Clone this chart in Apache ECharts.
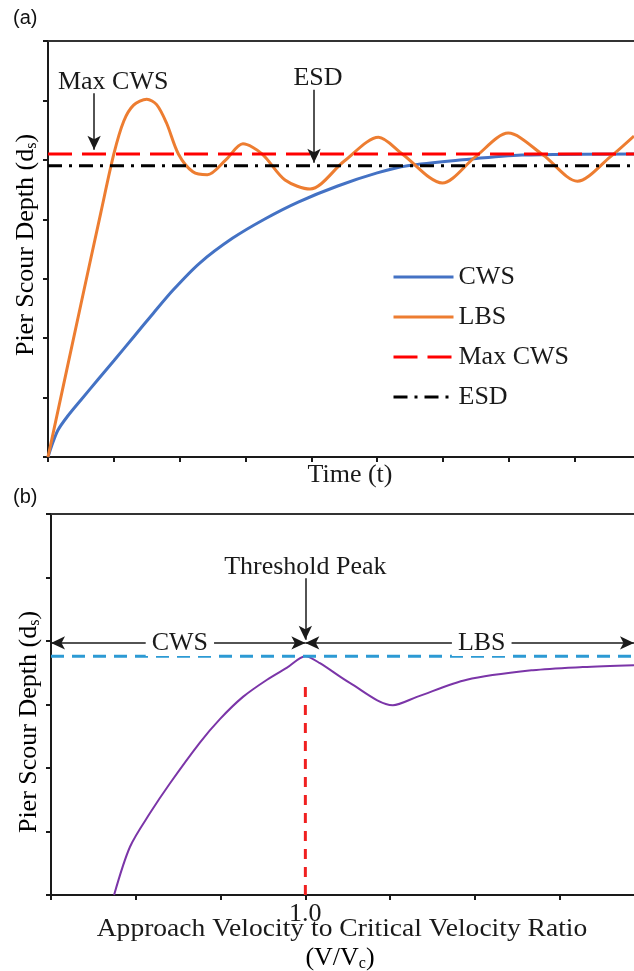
<!DOCTYPE html>
<html>
<head>
<meta charset="utf-8">
<script src="https://cdn.jsdelivr.net/npm/echarts@6/dist/echarts.min.js"></script>
<style>
  html, body { margin: 0; padding: 0; background: #fff; }
  #main { width: 634px; height: 971px; }
</style>
</head>
<body>
<div id="main"></div>
<script>
// panel (a): scour depth against time
const timeRange = [0, 8.9];
const timeTicks = [0, 1, 2, 3, 4, 5, 6, 7, 8];
const cwsTime  = [0, 0.05, 0.15, 0.3, 0.5, 0.75, 1.0, 1.3, 1.6, 1.9, 2.3, 2.8, 3.3, 3.8, 4.4, 5.0, 5.46, 6.3, 7.2, 8.9];
const cwsDepth = [0, 0.17, 0.45, 0.69, 0.96, 1.29, 1.62, 2.02, 2.42, 2.81, 3.26, 3.68, 4.01, 4.29, 4.56, 4.78, 4.9, 5.0, 5.08, 5.1];
const lbsTime  = [0, 0.5, 0.8, 1.0, 1.15, 1.3, 1.5, 1.65, 1.8, 1.98, 2.2, 2.42, 2.7, 2.96, 3.25, 3.6, 3.98,
                  4.5, 5.02, 5.38, 5.99, 6.49, 6.99, 7.52, 8.04, 8.54, 8.9];
const lbsDepth = [0, 2.57, 4.1, 5.1, 5.65, 5.92, 6.02, 5.93, 5.62, 5.1, 4.8, 4.75, 5.0, 5.27, 5.1, 4.66, 4.51,
                  4.98, 5.38, 5.1, 4.61, 5.05, 5.45, 5.08, 4.64, 5.05, 5.4];
const maxCwsDepth = 5.1;
const esdDepth = 4.9;

// panel (b): scour depth against V/Vc
const ratioRange = [0.25, 1.969];
const ratioTicks = [0.25, 0.5, 0.75, 1.0, 1.25, 1.5, 1.75];
const ratio  = [0.436, 0.483, 0.542, 0.601, 0.689, 0.748, 0.816, 0.887, 0.946, 1.0, 1.043, 1.131, 1.258,
                1.329, 1.476, 1.671, 1.818, 1.969];
const depthB = [0, 0.76, 1.29, 1.76, 2.4, 2.77, 3.12, 3.39, 3.58, 3.76, 3.65, 3.34, 2.99,
                3.12, 3.39, 3.54, 3.59, 3.62];
const thresholdRatio = 1.0;
const thresholdDepth = 3.76;
const redLineTop = 3.35;
const regimeArrowDepth = 3.97;

const SERIF = 'Liberation Serif';
const INK = '#1a1a1a';
const zip = (xs, ys) => xs.map((x, i) => [x, ys[i]]);

const chart = echarts.init(document.getElementById('main'));

const axisLine = { lineStyle: { color: INK, width: 2 } };
const axisTick = { length: 5, lineStyle: { color: INK, width: 2 } };
const txt = { fontFamily: SERIF, fontSize: 26, color: INK };

function arrow(from, to, both) {
  return [
    { coord: from, symbol: both ? 'arrow' : 'none' },
    { coord: to, symbol: 'arrow' }
  ];
}

const option = {
  animation: false,
  backgroundColor: '#fff',
  grid: [
    { left: 48, top: 41, width: 586, height: 416 },
    { left: 51, top: 514, width: 583, height: 381 }
  ],
  xAxis: [
    { gridIndex: 0, type: 'value', min: timeRange[0], max: timeRange[1], interval: 1,
      axisLine, axisTick: Object.assign({ customValues: timeTicks }, axisTick),
      axisLabel: { show: false }, splitLine: { show: false } },
    { gridIndex: 0, type: 'value', position: 'top', min: timeRange[0], max: timeRange[1],
      axisLine: { lineStyle: { color: '#333', width: 2 } }, axisTick: { show: false },
      axisLabel: { show: false }, splitLine: { show: false } },
    { gridIndex: 1, type: 'value', min: ratioRange[0], max: ratioRange[1], interval: 0.25,
      axisLine, axisTick: Object.assign({ customValues: ratioTicks }, axisTick),
      axisLabel: Object.assign({ customValues: [1.0], margin: 6, formatter: v => v.toFixed(1) }, txt),
      splitLine: { show: false } },
    { gridIndex: 1, type: 'value', position: 'top', min: ratioRange[0], max: ratioRange[1],
      axisLine: { lineStyle: { color: '#333', width: 2 } }, axisTick: { show: false },
      axisLabel: { show: false }, splitLine: { show: false } }
  ],
  yAxis: [
    { gridIndex: 0, type: 'value', min: 0, max: 7, interval: 1,
      axisLine, axisTick, axisLabel: { show: false }, splitLine: { show: false } },
    { gridIndex: 1, type: 'value', min: 0, max: 6, interval: 1,
      axisLine, axisTick, axisLabel: { show: false }, splitLine: { show: false } }
  ],
  legend: {
    data: ['CWS', 'LBS', 'Max CWS', 'ESD'],
    orient: 'vertical', left: 387, top: 259,
    itemWidth: 60, itemHeight: 14, itemGap: 14,
    itemStyle: { opacity: 0 },
    lineStyle: { width: 3 },
    textStyle: txt
  },
  series: [
    { name: 'CWS', type: 'line', xAxisIndex: 0, yAxisIndex: 0, data: zip(cwsTime, cwsDepth),
      smooth: 0.3, symbol: 'none', lineStyle: { color: '#4472C4', width: 3 }, itemStyle: { color: '#4472C4' } },
    { name: 'LBS', type: 'line', xAxisIndex: 0, yAxisIndex: 0, data: zip(lbsTime, lbsDepth),
      smooth: 0.3, symbol: 'none',
      lineStyle: { color: '#ED7D31', width: 3 }, itemStyle: { color: '#ED7D31' } },
    { name: 'Max CWS', type: 'line', xAxisIndex: 0, yAxisIndex: 0,
      data: [[timeRange[0], maxCwsDepth], [timeRange[1], maxCwsDepth]], symbol: 'none',
      lineStyle: { color: '#FF0000', width: 3, type: [24, 10] }, itemStyle: { color: '#FF0000' },
      markLine: { silent: true, symbolSize: [10, 14], lineStyle: { color: INK, width: 1.5, type: 'solid' },
        label: { show: false }, data: [arrow([0.70, 6.12], [0.70, 5.17])] } },
    { name: 'ESD', type: 'line', xAxisIndex: 0, yAxisIndex: 0,
      data: [[timeRange[0], esdDepth], [timeRange[1], esdDepth]], symbol: 'none',
      lineStyle: { color: '#000', width: 3, type: [14, 7, 3, 7] }, itemStyle: { color: '#000' },
      markLine: { silent: true, symbolSize: [10, 14], lineStyle: { color: INK, width: 1.5, type: 'solid' },
        label: { show: false }, data: [arrow([4.04, 6.18], [4.04, 4.95])] } },

    { name: 'Scour depth', type: 'line', xAxisIndex: 2, yAxisIndex: 1, data: zip(ratio, depthB),
      smooth: 0.3, symbol: 'none', lineStyle: { color: '#7B35A8', width: 2 } },
    { name: 'Peak level', type: 'line', xAxisIndex: 2, yAxisIndex: 1,
      data: [[ratioRange[0], thresholdDepth], [ratioRange[1], thresholdDepth]], symbol: 'none',
      lineStyle: { color: '#2C9AD4', width: 3, type: [13, 8] } },
    { name: 'Threshold', type: 'line', xAxisIndex: 2, yAxisIndex: 1,
      data: [[thresholdRatio, 0], [thresholdRatio, redLineTop]], symbol: 'none',
      lineStyle: { color: '#F02020', width: 3, type: [10, 8] },
      markLine: { silent: true, symbolSize: [10, 14], lineStyle: { color: INK, width: 1.5, type: 'solid' },
        label: { show: false },
        data: [
          arrow([thresholdRatio, 4.99], [thresholdRatio, regimeArrowDepth + 0.05]),
          arrow([ratioRange[0], regimeArrowDepth], [thresholdRatio, regimeArrowDepth], true),
          arrow([thresholdRatio, regimeArrowDepth], [ratioRange[1], regimeArrowDepth], true)
        ] } }
  ]
};
chart.setOption(option);

// annotation texts placed in data space
function label(grid, pos, text, extra) {
  const p = chart.convertToPixel({ gridIndex: grid }, pos);
  return {
    type: 'text', x: p[0], y: p[1], z: 100,
    style: Object.assign({ text, font: '26px "Liberation Serif"', fill: INK,
      align: 'center', verticalAlign: 'middle' }, extra || {})
  };
}
const white = { backgroundColor: '#fff', padding: [0, 6] };
const sub = {
  a: { fontFamily: SERIF, fontSize: 26, color: INK },
  s: { fontFamily: SERIF, fontSize: 16, color: INK, padding: [12, 0, 0, 0] }
};

chart.setOption({
  graphic: [
    label(0, [0.99, 6.31], 'Max CWS'),
    label(0, [4.10, 6.38], 'ESD'),
    label(1, [thresholdRatio, 5.17], 'Threshold Peak'),
    label(1, [0.63, regimeArrowDepth], 'CWS', white),
    label(1, [1.52, regimeArrowDepth], 'LBS', white),
    { type: 'text', x: 13, y: 18, style: { text: '(a)', font: '20px "Liberation Sans"', fill: '#111', verticalAlign: 'middle' } },
    { type: 'text', x: 13, y: 497, style: { text: '(b)', font: '20px "Liberation Sans"', fill: '#111', verticalAlign: 'middle' } },
    { type: 'text', x: 26, y: 245, rotation: Math.PI / 2,
      style: { text: '{a|Pier Scour Depth (d}{s|s}{a|)}', rich: sub, align: 'center', verticalAlign: 'middle' } },
    { type: 'text', x: 29, y: 722, rotation: Math.PI / 2,
      style: { text: '{a|Pier Scour Depth (d}{s|s}{a|)}', rich: sub, align: 'center', verticalAlign: 'middle' } },
    { type: 'text', x: 350, y: 475,
      style: { text: 'Time (t)', font: '26px "Liberation Serif"', fill: INK, align: 'center', verticalAlign: 'middle' } },
    { type: 'text', x: 342, y: 929, scaleX: 1.06,
      style: { text: 'Approach Velocity to Critical Velocity Ratio', font: '26px "Liberation Serif"', fill: INK,
        align: 'center', verticalAlign: 'middle' } },
    { type: 'text', x: 340, y: 958,
      style: { text: '{a|(V/V}{s|c}{a|)}', rich: sub, align: 'center', verticalAlign: 'middle' } }
  ]
});
</script>
</body>
</html>
